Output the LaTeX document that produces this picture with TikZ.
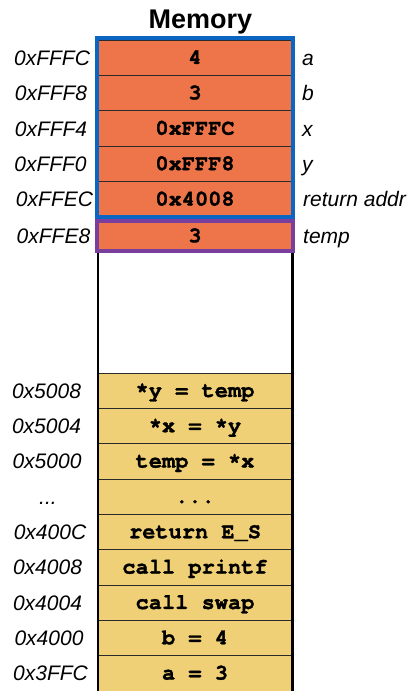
\documentclass[tikz,border=0pt]{standalone}
\usepackage{fontspec}
\setmainfont{Liberation Sans}
\newfontfamily\monofam{texgyrecursor}[Extension=.otf, UprightFont=*-regular, BoldFont=*-bold, BoldFeatures={FakeBold=1.4}]
\definecolor{cellorange}{HTML}{EE7549}
\definecolor{cellyellow}{HTML}{F0D076}
\definecolor{framblue}{HTML}{0B66C3}
\definecolor{frampurple}{HTML}{7A3E9D}
\definecolor{rowline}{HTML}{2A2A2A}
\begin{document}
\begin{tikzpicture}[x=1pt,y=-1pt,
  cellbase/.style={rectangle, draw=rowline, line width=0.9pt, minimum width=194pt,
    minimum height=35.4pt, inner sep=0pt,
    font=\monofam\bfseries\fontsize{22}{22}\selectfont, text height=12.5pt, text depth=0pt},
  ocell/.style={cellbase, fill=cellorange},
  ycell/.style={cellbase, fill=cellyellow, minimum height=35.33pt},
  addr/.style={font=\itshape\fontsize{21}{22}\selectfont, inner sep=0pt, text height=15pt, text depth=0pt},
  varname/.style={addr, anchor=west},
  bluebox/.style={draw=framblue, line width=4pt},
  purplebox/.style={draw=frampurple, line width=4pt},
  sideline/.style={draw=black, line width=2.4pt}
]
\useasboundingbox (0,0) rectangle (408,691);

% title
\node[font=\bfseries\fontsize{27}{27}\selectfont, inner sep=0pt, anchor=base] (title) at (200.5,28) {Memory};

% stack cells
\node[ocell] (c1) at (195,57.7) {4};
\node[ocell] (c2) at (195,93.1) {3};
\node[ocell] (c3) at (195,128.5) {0xFFFC};
\node[ocell] (c4) at (195,163.9) {0xFFF8};
\node[ocell] (c5) at (195,199.3) {0x4008};
\node[ocell, minimum height=30pt, minimum width=196pt, draw=frampurple, line width=4pt] (tmp) at (195,236) {3};

\draw[bluebox] ([xshift=-0.5pt,yshift=2pt]c1.north west) rectangle ([xshift=0.5pt,yshift=0.5pt]c5.south east);

% side lines of memory column
\coordinate (bl) at (98,691);
\coordinate (br) at (292.5,691);
\draw[sideline] (tmp.south west -| bl) -- (bl);
\draw[sideline] (tmp.south east -| br) -- (br);

% code cells
\node[ycell] (y1) at (195,390.7) {*y = temp};
\node[ycell] (y2) at (195,426.0) {*x = *y};
\node[ycell] (y3) at (195,461.3) {temp = *x};
\node[ycell] (y4) at (195,496.7) {...};
\node[ycell] (y5) at (195,532.0) {return E\_S};
\node[ycell] (y6) at (195,567.3) {call printf};
\node[ycell] (y7) at (195,602.7) {call swap};
\node[ycell] (y8) at (195,638.0) {b = 4};
\node[ycell] (y9) at (195,673.3) {a = 3};
\draw[sideline] (y1.north west -| bl) -- (bl);
\draw[sideline] (y1.north east -| br) -- (br);

% addresses
\node[addr] (a1) at (52,57.7) {0xFFFC};
\node[addr] (a2) at (51,93.1) {0xFFF8};
\node[addr] (a3) at (51,128.5) {0xFFF4};
\node[addr] (a4) at (50.5,163.9) {0xFFF0};
\node[addr] (a5) at (54.5,199.3) {0xFFEC};
\node[addr] (a6) at (53.5,236) {0xFFE8};
\node[addr] (b1) at (46.5,390.7) {0x5008};
\node[addr] (b2) at (46.5,426.0) {0x5004};
\node[addr] (b3) at (47,461.3) {0x5000};
\node[addr] (b4) at (48,496.7) {...};
\node[addr] (b5) at (50,532.0) {0x400C};
\node[addr] (b6) at (47.5,567.3) {0x4008};
\node[addr] (b7) at (47.5,602.7) {0x4004};
\node[addr] (b8) at (49,638.0) {0x4000};
\node[addr] (b9) at (50.5,673.3) {0x3FFC};

% variable names
\node[varname] (v1) at (302,57.7) {a};
\node[varname] (v2) at (302,93.1) {b};
\node[varname] (v3) at (302,128.5) {x};
\node[varname] (v4) at (302,163.9) {y};
\node[varname] (v5) at (303,199.3) {return addr};
\node[varname] (v6) at (303,236) {temp};
\end{tikzpicture}
\end{document}
